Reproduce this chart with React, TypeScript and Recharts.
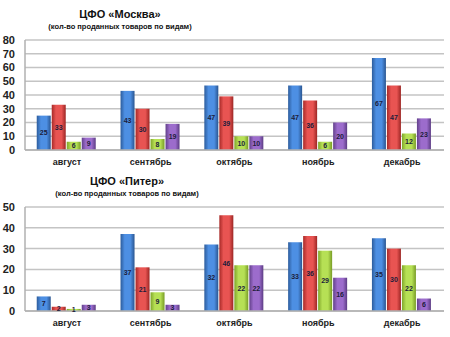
import React from 'react';
import { BarChart, Bar, XAxis, YAxis, CartesianGrid, LabelList } from 'recharts';

const months = ['август', 'сентябрь', 'октябрь', 'ноябрь', 'декабрь'];
const moscowBlue = [25, 43, 47, 47, 67];
const moscowRed = [33, 30, 39, 36, 47];
const moscowGreen = [6, 8, 10, 6, 12];
const moscowPurple = [9, 19, 10, 20, 23];
const piterBlue = [7, 37, 32, 33, 35];
const piterRed = [2, 21, 46, 36, 30];
const piterGreen = [1, 9, 22, 29, 22];
const piterPurple = [3, 3, 22, 16, 6];
const moscowTicks = [0, 10, 20, 30, 40, 50, 60, 70, 80];
const piterTicks = [0, 10, 20, 30, 40, 50];

const build = (a: number[], b: number[], c: number[], d: number[]) =>
  months.map((m, i) => ({ m, a: a[i], b: b[i], c: c[i], d: d[i] }));

const moscowData = build(moscowBlue, moscowRed, moscowGreen, moscowPurple);
const piterData = build(piterBlue, piterRed, piterGreen, piterPurple);

const FONT = '"Liberation Sans", Arial, sans-serif';

const grads: [string, string, string, string][] = [
  ['a', '#2c5c9c', '#4d8fe3', '#2a5590'],
  ['b', '#a82a28', '#e85452', '#9c2624'],
  ['c', '#7fa62a', '#b6e055', '#789c26'],
  ['d', '#62408a', '#9c6ccc', '#5c3c84'],
];

function Defs({ p }: { p: string }) {
  return (
    <defs>
      {grads.map(([k, e, m, e2]) => (
        <linearGradient key={k} id={p + k} x1="0" y1="0" x2="1" y2="0">
          <stop offset="0%" stopColor={e} />
          <stop offset="30%" stopColor={m} />
          <stop offset="70%" stopColor={m} />
          <stop offset="100%" stopColor={e2} />
        </linearGradient>
      ))}
    </defs>
  );
}

function Chart({ data, ticks, max, p, top, height }: any) {
  return (
    <BarChart
      width={450}
      height={height}
      data={data}
      margin={{ top, right: 6, bottom: 0, left: 0 }}
      barCategoryGap="14%"
      barGap={1}
    >
      <Defs p={p} />
      <CartesianGrid vertical={false} stroke="#c4c4c4" strokeWidth={1.5} />
      <XAxis
        dataKey="m"
        height={height - top - (max === 80 ? 110 : 104)}
        tickLine={false}
        tickSize={0}
        tickMargin={9}
        stroke="#b0b0b0"
        strokeWidth={1.5}
        tick={{ fill: '#222', fontSize: 9, fontWeight: 'bold', fontFamily: FONT }}
        interval={0}
      />
      <YAxis
        width={25}
        domain={[0, max]}
        ticks={ticks}
        interval={0}
        tickLine={false}
        tickSize={0}
        tickMargin={10}
        stroke="#b0b0b0"
        strokeWidth={1.5}
        tick={{ fill: '#222', fontSize: 11, fontWeight: 'bold', fontFamily: FONT }}
      />
      {['a', 'b', 'c', 'd'].map((k) => (
        <Bar key={k} dataKey={k} fill={`url(#${p}${k})`} isAnimationActive={false}>
          <LabelList
            dataKey={k}
            position="center"
            style={{ fontSize: 7, fontWeight: 'bold', fill: '#1c1c3a', fontFamily: FONT }}
          />
        </Bar>
      ))}
    </BarChart>
  );
}

function Title({ x, y, title }: { x: number; y: number; title: string }) {
  return (
    <>
      <div
        style={{
          position: 'absolute',
          left: x,
          top: y,
          transform: 'translateX(-50%)',
          whiteSpace: 'nowrap',
          fontFamily: FONT,
          fontWeight: 'bold',
          fontSize: 11,
          color: '#111',
        }}
      >
        {title}
      </div>
      <div
        style={{
          position: 'absolute',
          left: x,
          top: y + 14,
          transform: 'translateX(-50%)',
          whiteSpace: 'nowrap',
          fontFamily: FONT,
          fontWeight: 'bold',
          fontSize: 7.5,
          color: '#111',
        }}
      >
        (кол-во проданных товаров по видам)
      </div>
    </>
  );
}

export default function App() {
  return (
    <div style={{ position: 'absolute', left: 0, top: 0, width: 450, height: 337, background: '#fff' }}>
      <div style={{ position: 'absolute', left: 0, top: 0 }}>
        <Chart data={moscowData} ticks={moscowTicks} max={80} p="m" top={40} height={170} />
      </div>
      <div style={{ position: 'absolute', left: 0, top: 170 }}>
        <Chart data={piterData} ticks={piterTicks} max={50} p="s" top={37} height={167} />
      </div>
      <Title x={120} y={8} title="ЦФО «Москва»" />
      <Title x={127} y={175} title="ЦФО «Питер»" />
    </div>
  );
}
